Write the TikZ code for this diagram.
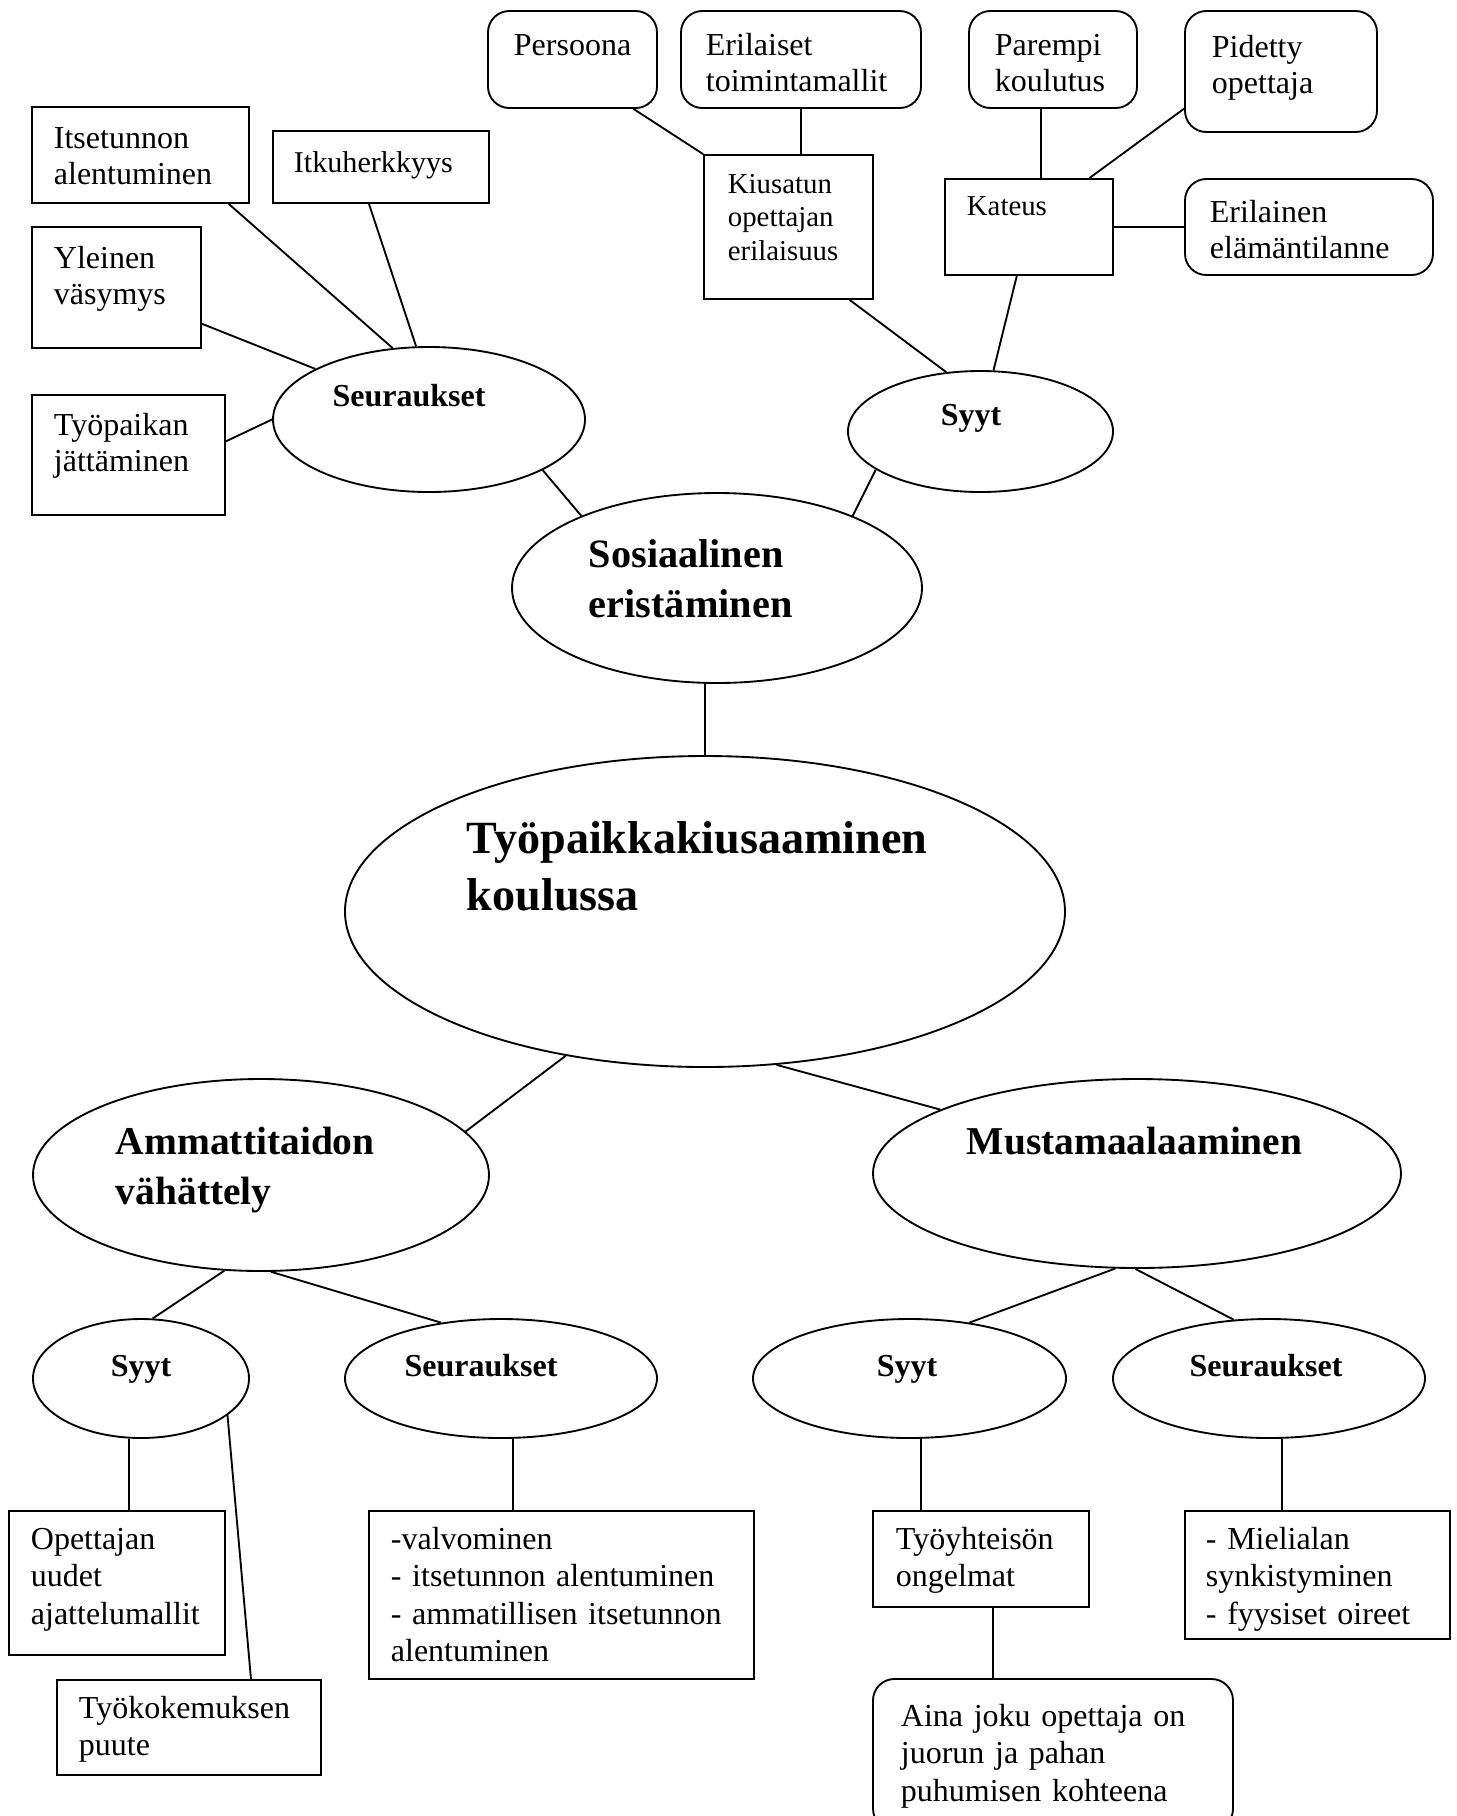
\documentclass[tikz,border=0pt]{standalone}
\usepackage{fontspec}
\setmainfont{Liberation Serif}
\usetikzlibrary{shapes.geometric}

\newcommand{\upx}{0.375pt}
\tikzset{
  box/.style={draw, rectangle, inner sep=0pt},
  rbox/.style={box, rounded corners=8pt},
  oval/.style={draw, ellipse, inner sep=0pt},
  txt/.style={anchor=base west, inner sep=0pt, align=left, text width=190pt,
    font={\fontsize{12}{13.5}\selectfont}},
  smalltxt/.style={txt, font={\fontsize{10.8}{12.6}\selectfont}},
  btxt/.style={txt, font={\fontsize{12}{14.06}\selectfont}},
  lbl/.style={anchor=base, inner sep=0pt, font={\bfseries\fontsize{12}{14}\selectfont}},
  head/.style={txt, font={\bfseries\fontsize{14.8}{19.1}\selectfont}}
}

\begin{document}
\begin{tikzpicture}[x=\upx, y=-\upx, line width=0.7pt]
    \useasboundingbox (0,0) rectangle (1457,1816);

    % top: causes
    \node[rbox, minimum width=169*\upx, minimum height=97*\upx] (persoona) at (572.5,59.5) {};
    \node[txt] (persoonaTxt) at (513,55) {Persoona};
    \node[rbox, minimum width=240*\upx, minimum height=97*\upx] (erilaiset) at (801,59.5) {};
    \node[txt] (erilaisetTxt) at (705,55) {Erilaiset\\toimintamallit};
    \node[rbox, minimum width=168*\upx, minimum height=97*\upx] (parempi) at (1053,59.5) {};
    \node[txt] (parempiTxt) at (994,55) {Parempi\\koulutus};
    \node[rbox, minimum width=192*\upx, minimum height=121*\upx] (pidetty) at (1281,71.5) {};
    \node[txt] (pidettyTxt) at (1211,57) {Pidetty\\opettaja};
    \node[box, minimum width=169*\upx, minimum height=144*\upx] (kiusatun) at (788.5,227) {};
    \node[smalltxt] (kiusatunTxt) at (727,193) {Kiusatun\\opettajan\\erilaisuus};
    \node[box, minimum width=168*\upx, minimum height=96*\upx] (kateus) at (1029,227) {};
    \node[smalltxt] (kateusTxt) at (966,215) {Kateus};
    \node[rbox, minimum width=248*\upx, minimum height=96*\upx] (erilainen) at (1309,227) {};
    \node[txt] (erilainenTxt) at (1209,222) {Erilainen\\elämäntilanne};
    \node[oval, minimum width=265*\upx, minimum height=121*\upx] (syytA) at (980.5,431.5) {};
    \node[lbl] (syytATxt) at (971,425) {Syyt};

    % top: consequences
    \node[box, minimum width=217*\upx, minimum height=96*\upx] (itsetunnon) at (140.5,155) {};
    \node[txt] (itsetunnonTxt) at (53,148) {Itsetunnon\\alentuminen};
    \node[box, minimum width=216*\upx, minimum height=72*\upx] (itku) at (381,167) {};
    \node[txt, font={\fontsize{11.3}{13}\selectfont}] (itkuTxt) at (293,172) {Itkuherkkyys};
    \node[box, minimum width=169*\upx, minimum height=121*\upx] (yleinen) at (116.5,287.5) {};
    \node[txt] (yleinenTxt) at (53,268) {Yleinen\\väsymys};
    \node[box, minimum width=193*\upx, minimum height=120*\upx] (tyopaikan) at (128.5,455) {};
    \node[txt] (tyopaikanTxt) at (53,435) {Työpaikan\\jättäminen};
    \node[oval, minimum width=312*\upx, minimum height=145*\upx] (seurA) at (429,419.5) {};
    \node[lbl] (seurATxt) at (409,406) {Seuraukset};

    % middle
    \node[oval, minimum width=410*\upx, minimum height=190*\upx] (sos) at (717,588) {};
    \node[txt, font={\bfseries\fontsize{15.1}{18.75}\selectfont}] (sosTxt) at (588,567) {Sosiaalinen\\eristäminen};
    \node[oval, minimum width=720*\upx, minimum height=311*\upx] (main) at (705,911.5) {};
    \node[txt, font={\bfseries\fontsize{17.3}{21.4}\selectfont}] (mainTxt) at (466,853) {Työpaikkakiusaaminen\\koulussa};
    \node[oval, minimum width=456*\upx, minimum height=192*\upx] (amm) at (261,1175) {};
    \node[head] (ammTxt) at (115,1154) {Ammattitaidon\\vähättely};
    \node[oval, minimum width=528*\upx, minimum height=189*\upx] (must) at (1137,1173.5) {};
    \node[head] (mustTxt) at (966,1154) {Mustamaalaaminen};

    % bottom ellipses
    \node[oval, minimum width=216*\upx, minimum height=119*\upx] (syytL) at (141,1378.5) {};
    \node[lbl] (syytLTxt) at (141,1376) {Syyt};
    \node[oval, minimum width=312*\upx, minimum height=119*\upx] (seurL) at (501,1378.5) {};
    \node[lbl] (seurLTxt) at (481,1376) {Seuraukset};
    \node[oval, minimum width=313*\upx, minimum height=119*\upx] (syytR) at (909.5,1378.5) {};
    \node[lbl] (syytRTxt) at (907,1376) {Syyt};
    \node[oval, minimum width=312*\upx, minimum height=119*\upx] (seurR) at (1269,1378.5) {};
    \node[lbl] (seurRTxt) at (1266,1376) {Seuraukset};

    % bottom boxes
    \node[box, minimum width=216*\upx, minimum height=144*\upx] (opettajan) at (117,1583) {};
    \node[btxt] (opettajanTxt) at (30,1549) {Opettajan\\uudet\\ajattelumallit};
    \node[box, minimum width=264*\upx, minimum height=95*\upx] (tyokok) at (189,1727.5) {};
    \node[btxt] (tyokokTxt) at (78,1718) {Työkokemuksen\\puute};
    \node[box, minimum width=385*\upx, minimum height=168*\upx] (valvo) at (561.5,1595) {};
    \node[btxt] (valvoTxt) at (390,1549) {-valvominen\\- itsetunnon alentuminen\\- ammatillisen itsetunnon\\alentuminen};
    \node[box, minimum width=216*\upx, minimum height=96*\upx] (tyoyht) at (981,1559) {};
    \node[btxt] (tyoyhtTxt) at (895,1549) {Työyhteisön\\ongelmat};
    \node[box, minimum width=265*\upx, minimum height=128*\upx] (mieli) at (1317.5,1575) {};
    \node[btxt] (mieliTxt) at (1205,1549) {- Mielialan\\synkistyminen\\- fyysiset oireet};
    \node[rbox, minimum width=360*\upx, minimum height=151*\upx] (aina) at (1053,1754.5) {};
    \node[btxt] (ainaTxt) at (900,1726) {Aina joku opettaja on\\juorun ja pahan\\puhumisen kohteena};

    % connectors
    \draw (persoona.-39) -- (kiusatun.north west);
    \draw (erilaiset.south) -- (erilaiset.south |- kiusatun.north);
    \draw (kateus.76) -- (kateus.76 |- parempi.south);
    \draw (pidetty.201) -- (kateus.39);
    \draw (kateus.east) -- (erilainen.west);
    \draw (kiusatun.-50) -- (syytA.120);
    \draw (kateus.-104) -- (syytA.78);
    \draw (itsetunnon.-29) -- (seurA.117);
    \draw (itku.-108) -- (seurA.100);
    \draw (yleinen.-23) -- (seurA.156);
    \draw (tyopaikan.8) -- (seurA.west);
    \draw (seurA.-24) -- (sos.152);
    \draw (syytA.-160) -- (sos.28);
    \draw (sos.-97) -- (sos.-97 |- main.north);
    \draw (main.-134) -- (amm.12);
    \draw (main.-65) -- (must.162);
    \draw (amm.-111) -- (syytL.79);
    \draw (amm.-84) -- (seurL.137);
    \draw (must.-103) -- (syytR.43);
    \draw (must.-91) -- (seurR.121);
    \draw (syytL.-101) -- (syytL.-101 |- opettajan.north);
    \draw (syytL.-23) -- (tyokok.38);
    \draw (seurL.-79) -- (seurL.-79 |- valvo.north);
    \draw (syytR.-79) -- (syytR.-79 |- tyoyht.north);
    \draw (seurR.-78) -- (seurR.-78 |- mieli.north);
    \draw (tyoyht.-76) -- (tyoyht.-76 |- aina.north);
\end{tikzpicture}
\end{document}
